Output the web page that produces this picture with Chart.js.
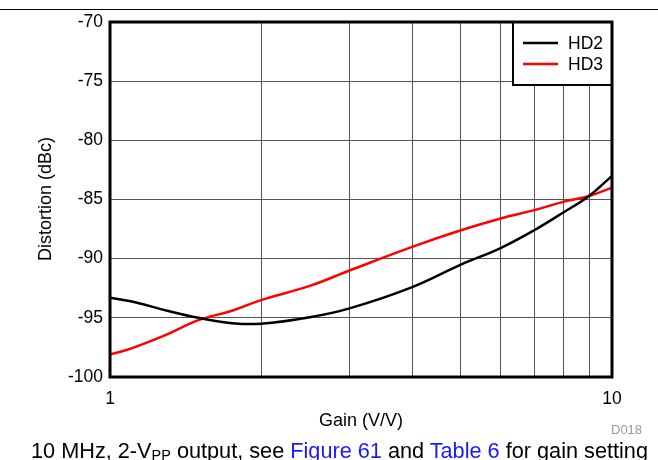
<!DOCTYPE html>
<html>
<head>
<meta charset="utf-8">
<script src="https://cdn.jsdelivr.net/npm/chart.js@4"></script>
<style>
  body { margin: 0; background: #fff; font-family: Arial, "Liberation Sans", sans-serif; }
  #wrap { position: relative; width: 658px; height: 460px; overflow: hidden; }
  #topRule { position: absolute; left: 0; top: 9px; width: 658px; height: 0; border-top: 1.5px solid #000; }
  .lbl { position: absolute; line-height: 1; white-space: nowrap; color: #000; }
  #yTitle { left: 45px; top: 199px; transform: translate(-50%, -50%) rotate(-90deg); font-size: 18px; }
  #xTitle { left: 361px; top: 411px; transform: translateX(-50%); font-size: 18px; }
  #code { left: 611px; top: 423px; font-size: 13px; color: #999; }
  #caption { left: 31px; top: 440px; font-size: 21.7px; }
  #caption sub { font-size: 14.5px; vertical-align: -2px; line-height: 0; }
  #caption a { color: #1a1aff; text-decoration: none; }
</style>
</head>
<body>
<div id="wrap">
  <canvas id="chart" width="658" height="460"></canvas>
  <div id="topRule"></div>
  <div class="lbl" id="yTitle">Distortion (dBc)</div>
  <div class="lbl" id="xTitle">Gain (V/V)</div>
  <div class="lbl" id="code">D018</div>
  <div class="lbl" id="caption">10 MHz, 2-V<sub>PP</sub> output, see <a>Figure 61</a> and <a>Table 6</a> for gain setting</div>
</div>
<script>
// values
const gain = [1, 1.1, 1.3, 1.5, 1.75, 2, 2.5, 3, 4, 5, 6, 7, 8, 9, 10];
const hd2 = [-93.3, -93.6, -94.4, -95.0, -95.45, -95.5, -94.95, -94.2, -92.4, -90.5, -89.1, -87.6, -86.1, -84.7, -83.0];
const hd3 = [-98.1, -97.6, -96.4, -95.2, -94.4, -93.5, -92.3, -91.0, -89.0, -87.6, -86.6, -85.9, -85.2, -84.7, -84.0];
const xGrid = [1, 2, 3, 4, 5, 6, 7, 8, 9, 10];
const xLabels = [1, 10];
const seriesNames = ['HD2', 'HD3'];
const seriesColors = ['#000000', '#ff0000'];

const font = 'Arial, "Liberation Sans", sans-serif';

const toPoints = ys => gain.map((g, i) => ({ x: g, y: ys[i] }));

// frame + legend box drawn on top of the plot
const frameAndLegend = {
    id: 'frameAndLegend',
    afterDatasetsDraw(chart) {
        const { ctx, chartArea: a } = chart;
        ctx.save();
        // legend
        const w = 99, h = 63;
        const lx = a.right - w, ly = a.top;
        ctx.fillStyle = '#fff';
        ctx.fillRect(lx, ly, w, h);
        ctx.strokeStyle = '#000';
        ctx.lineWidth = 2;
        ctx.strokeRect(lx, ly, w, h);
        ctx.font = '17.5px ' + font;
        ctx.textBaseline = 'middle';
        chart.data.datasets.forEach((ds, i) => {
            const y = ly + 21 + i * 21;
            ctx.strokeStyle = ds.borderColor;
            ctx.lineWidth = 2.5;
            ctx.beginPath();
            ctx.moveTo(lx + 10, y);
            ctx.lineTo(lx + 45, y);
            ctx.stroke();
            ctx.fillStyle = '#000';
            ctx.fillText(ds.label, lx + 55, y + 1);
        });
        // plot frame
        ctx.strokeStyle = '#000';
        ctx.lineWidth = 3;
        ctx.strokeRect(a.left, a.top, a.right - a.left, a.bottom - a.top);
        ctx.restore();
    }
};

new Chart(document.getElementById('chart'), {
    type: 'line',
    data: {
        datasets: [
            { label: seriesNames[0], data: toPoints(hd2), borderColor: seriesColors[0], borderWidth: 2.5, pointRadius: 0, tension: 0.4 },
            { label: seriesNames[1], data: toPoints(hd3), borderColor: seriesColors[1], borderWidth: 2.5, pointRadius: 0, tension: 0.4 }
        ]
    },
    options: {
        responsive: false,
        animation: false,
        layout: { padding: { top: 22, right: 46, left: 0, bottom: 0 } },
        plugins: { legend: { display: false }, tooltip: { enabled: false } },
        scales: {
            x: {
                type: 'logarithmic',
                min: 1,
                max: 10,
                afterBuildTicks: s => { s.ticks = xGrid.map(v => ({ value: v })); },
                afterFit: s => { s.height = 83; },
                grid: { color: '#555', lineWidth: 1, drawTicks: false },
                border: { display: false },
                ticks: {
                    autoSkip: false,
                    maxRotation: 0,
                    padding: 12,
                    color: '#000',
                    font: { family: font, size: 17.5 },
                    callback: v => xLabels.includes(v) ? String(v) : ''
                }
            },
            y: {
                min: -100,
                max: -70,
                afterFit: s => { s.width = 110; },
                grid: { color: '#555', lineWidth: 1, drawTicks: false },
                border: { display: false },
                ticks: {
                    stepSize: 5,
                    padding: 7,
                    color: '#000',
                    font: { family: font, size: 17.5 }
                }
            }
        }
    },
    plugins: [frameAndLegend]
});
</script>
</body>
</html>
